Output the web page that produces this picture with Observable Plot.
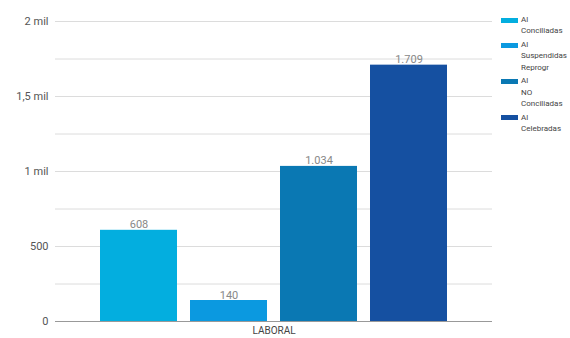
<!DOCTYPE html>
<html>
<head>
<meta charset="utf-8">
<script src="https://cdn.jsdelivr.net/npm/d3@7"></script>
<script src="https://cdn.jsdelivr.net/npm/@observablehq/plot@0.6"></script>
<style>
  html, body { margin: 0; padding: 0; background: #fff; }
  #wrap { position: relative; width: 570px; height: 338px; font-family: Roboto, "Liberation Sans", sans-serif; }
  #legend { position: absolute; left: 501px; top: 14px; font-size: 8px; color: #444; }
  .item { position: relative; padding-left: 20px; margin-bottom: 2.5px; line-height: 11.3px; }
  .sw { position: absolute; left: 0; top: 3.5px; width: 17px; height: 5px; }
</style>
</head>
<body>
<div id="wrap"></div>
<script>
// Audiencias laborales por estado
const categories = ["LABORAL"];
const series = ["Al Conciliadas", "Al Suspendidas Reprogr", "Al NO Conciliadas", "Al Celebradas"];
const values = [608, 140, 1034, 1709];
const colors = ["#03aedf", "#0b99e0", "#0a78b3", "#1550a1"];
const yTicks = [0, 500, 1000, 1500, 2000];
const yTickLabels = ["0", "500", "1 mil", "1,5 mil", "2 mil"];
const gridValues = [250, 500, 750, 1000, 1250, 1500, 1750, 2000];

const data = series.map((s, i) => ({category: categories[0], series: s, value: values[i]}));
const fmt = d3.formatLocale({decimal: ",", thousands: ".", grouping: [3], currency: ["", ""]}).format(",");

const chart = Plot.plot({
  width: 570,
  height: 338,
  marginLeft: 55,
  marginRight: 78,
  marginTop: 21,
  marginBottom: 17,
  style: {fontFamily: "Roboto, 'Liberation Sans', sans-serif", fontSize: "11px", color: "#555", background: "#fff"},
  fx: {domain: categories, padding: 0, label: null},
  x: {domain: series, paddingInner: 0.14, paddingOuter: 0.48, axis: null},
  y: {domain: [0, 2000], label: null, axis: null},
  color: {domain: series, range: colors},
  marks: [
    Plot.ruleY(gridValues, {stroke: "#dcdcdc", strokeWidth: 1}),
    Plot.axisY(yTicks, {
      tickSize: 0, tickPadding: 7, label: null, fill: "#555", fontSize: 11,
      tickFormat: (d) => yTickLabels[yTicks.indexOf(d)]
    }),
    Plot.barY(data, {fx: "category", x: "series", y: "value", fill: "series"}),
    Plot.ruleY([0], {stroke: "#999", strokeWidth: 1}),
    Plot.text(data, {
      fx: "category", x: "series", y: "value", text: (d) => fmt(d.value),
      lineAnchor: "bottom", dy: -2, fill: "#888", fontSize: 11
    }),
    Plot.axisFx({anchor: "bottom", tickSize: 0, tickPadding: 5, label: null, fill: "#444", fontSize: 10})
  ]
});

const wrap = document.getElementById("wrap");
wrap.appendChild(chart);

// Legend at the right, colours taken from the chart's colour scale
const colorScale = chart.scale("color");
const legend = document.createElement("div");
legend.id = "legend";
series.forEach((s) => {
  const item = document.createElement("div");
  item.className = "item";
  const sw = document.createElement("span");
  sw.className = "sw";
  sw.style.background = colorScale.apply(s);
  item.appendChild(sw);
  s.split(" ").forEach((word) => {
    const line = document.createElement("div");
    line.textContent = word;
    item.appendChild(line);
  });
  legend.appendChild(item);
});
wrap.appendChild(legend);
</script>
</body>
</html>
